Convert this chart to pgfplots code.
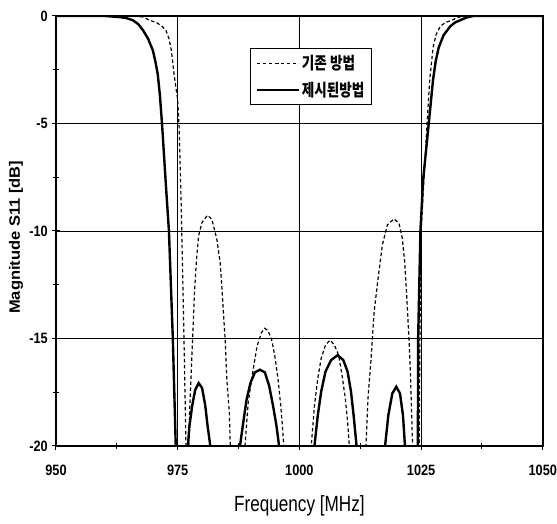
\documentclass[border=0pt]{standalone}
\usepackage{fontspec}
\setmainfont{Liberation Sans}
\newfontfamily\narrowfont[FakeStretch=0.85]{Liberation Sans}
\newfontfamily\xlabfont[FakeStretch=0.78]{Liberation Sans}
\newfontfamily\ylabfont[FakeStretch=1.1]{Liberation Sans}
\newfontfamily\kr[FakeStretch=0.8]{Noto Sans CJK KR}
\usepackage{pgfplots}
\pgfplotsset{compat=1.18}

\begin{document}
\begin{tikzpicture}
\begin{axis}[
  scale only axis, width=487pt, height=430pt,
  xmin=950, xmax=1050, ymin=-20, ymax=0,
  xtick={950,975,1000,1025,1050}, xticklabels={950,975,1000,1025,1050},
  ytick={-20,-15,-10,-5,0}, yticklabels={-20,-15,-10,-5,0},
  minor x tick num=1, minor y tick num=1,
  tick align=center, major tick length=8pt, minor tick length=6pt,
  xtick pos=bottom, ytick pos=left,
  tick style={black, line width=1pt},
  grid=major, grid style={black, line width=0.8pt},
  axis line style={black, line width=1.8pt},
  xticklabel style={font=\narrowfont\bfseries\fontsize{15}{15}\selectfont, anchor=north, inner sep=0pt, yshift=-15pt},
  yticklabel style={font=\narrowfont\bfseries\fontsize{15}{15}\selectfont, anchor=east, inner sep=0pt, xshift=-4pt},
  xlabel={Frequency [MHz]},
  xlabel style={font=\xlabfont\fontsize{22}{22}\selectfont, at={(axis description cs:0.5,-0.153)}, anchor=base},
  ylabel={Magnitude S11 [dB]},
  ylabel style={font=\ylabfont\bfseries\fontsize{15}{15}\selectfont, at={(axis description cs:-0.082,0.485)}, anchor=center},
  legend style={at={(axis description cs:0.649,0.926)}, anchor=north east, draw=black, line width=1pt, fill=white,
    font=\kr\bfseries\fontsize{17}{17}\selectfont, inner xsep=5pt, inner ysep=5pt, row sep=7pt},
  legend cell align=left,
  legend image code/.code={\draw[#1] plot coordinates {(0pt,0pt) (21pt,0pt) (42pt,0pt)};},
  clip=true,
]
\addplot[black, line width=1.2pt, dash pattern=on 3.5pt off 2.5pt] coordinates {
(950,0) (966,0) (968,-0.05) (969.2,-0.2) (970.6,-0.3) (971.8,-0.48) (972.6,-0.67) (973.2,-1.05) (973.7,-1.6) (974.3,-2.8) (975.0,-3.9) (975.3,-5.2) (975.7,-8.6) (976.0,-11.7) (976.4,-16.3) (976.7,-20) (977.0,-40)
(977.25,-20) (977.45,-18.44) (977.73,-16.89) (978.14,-14.57) (978.41,-13.02) (978.82,-11.47) (979.29,-10.23) (979.98,-9.61) (981.12,-9.27) (982.02,-9.46) (983.04,-10.39) (983.72,-11.47) (984.06,-12.56) (984.39,-13.79) (984.74,-15.03) (985.08,-16.89) (985.61,-18.44) (985.8,-20) (987.3,-40)
(988.82,-20) (989.49,-17.98) (989.98,-17.21) (990.51,-16.43) (991.33,-15.34) (992.23,-14.72) (992.9,-14.53) (993.57,-14.65) (994.27,-15.03) (994.94,-15.81) (995.61,-16.89) (996.1,-17.98) (996.51,-19.07) (996.78,-20) (999.6,-40)
(1002.43,-20) (1003.1,-18.11) (1003.78,-16.86) (1004.47,-15.93) (1005.35,-15.31) (1006.31,-15.08) (1007.19,-15.31) (1008.06,-15.78) (1008.76,-16.71) (1009.43,-17.8) (1009.9,-18.88) (1010.25,-20) (1012,-40)
(1013.66,-20) (1014.13,-17.64) (1014.68,-16.09) (1015.35,-13.76) (1016.17,-12.2) (1017.04,-10.65) (1018.07,-9.72) (1019.43,-9.44) (1020.45,-9.64) (1021.13,-10.34) (1021.62,-11.43) (1022.03,-12.98) (1022.5,-15) (1022.84,-16.86) (1023.25,-20) (1023.9,-40)
(1024.6,-20) (1024.75,-15) (1025,-10) (1025.6,-7.5) (1026.22,-5) (1026.77,-2.97) (1027.45,-1.47) (1028.1,-0.85) (1028.94,-0.48) (1030,-0.3) (1031.33,-0.2) (1032.5,-0.07) (1033.7,0) (1050,0)
};
\addlegendentry{기존 방법}
\addplot[black, line width=2.4pt] coordinates {
(950,0) (960,0) (963,-0.05) (964.5,-0.1) (965.8,-0.2) (966.9,-0.38) (967.9,-0.67) (968.9,-1.05) (969.9,-1.6) (970.4,-2.1) (970.9,-2.7) (971.35,-3.7) (971.8,-5.08) (972.6,-7.95) (973.2,-10) (974.0,-15) (974.3,-17.5) (974.6,-20) (975.8,-40)
(977.1,-20) (977.4,-19.1) (978.0,-18.1) (978.6,-17.4) (979.3,-17.08) (980.0,-17.3) (980.65,-18.1) (981.1,-19.0) (981.7,-20) (984.7,-40)
(987.8,-20) (988.47,-18.91) (989.16,-17.83) (989.98,-17.05) (990.86,-16.58) (991.88,-16.46) (992.9,-16.58) (993.78,-17.2) (994.59,-18.14) (995.29,-19.07) (995.82,-20) (999.5,-40)
(1003.1,-20) (1003.78,-18.57) (1004.47,-17.48) (1005.35,-16.55) (1006.51,-16.01) (1007.86,-15.78) (1009.02,-16.01) (1009.9,-16.55) (1010.6,-17.48) (1011.13,-18.57) (1011.74,-20) (1014.7,-40)
(1017.6,-20) (1018.27,-18.57) (1019.09,-17.56) (1019.9,-17.25) (1020.66,-17.56) (1021.27,-18.57) (1021.68,-20) (1023.0,-40)
(1024.33,-20) (1024.39,-15) (1024.86,-10) (1025.41,-7.63) (1026.57,-5) (1027.45,-2.97) (1028.0,-2.1) (1028.61,-1.47) (1029.6,-0.9) (1030.98,-0.48) (1032,-0.3) (1033.02,-0.2) (1034.3,-0.07) (1035.76,0) (1050,0)
};
\addlegendentry{제시된방법}
\end{axis}
\path[use as bounding box] (-56pt,-78pt) rectangle (501pt,446pt);
\end{tikzpicture}
\end{document}
